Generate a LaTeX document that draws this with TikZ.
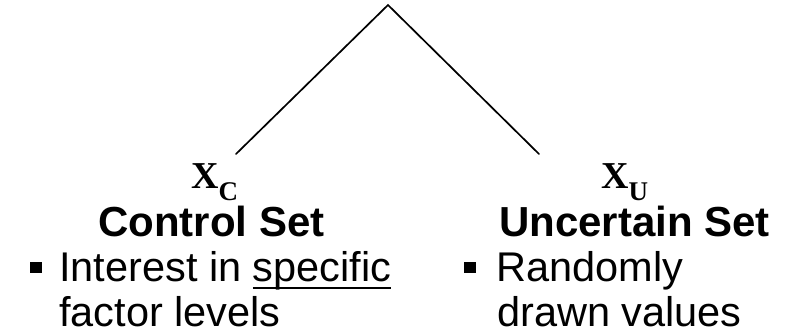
\documentclass[tikz,border=0pt]{standalone}
\usepackage{fontspec}
\setmainfont{Liberation Sans}
\newfontfamily\symfont{Liberation Serif}
% underline with a heavier rule than \underline gives
\newcommand{\thickul}[1]{{\setbox0\hbox{#1}\rlap{\rule[-8pt]{\wd0}{2.2pt}}\box0}}
\begin{document}
\begin{tikzpicture}[x=1pt,y=-1pt,
  branch/.style={line width=1.7pt, line cap=round},
  setname/.style={anchor=base west, inner sep=0pt, text height=31pt, font=\fontsize{42}{46}\selectfont\bfseries},
  bodyline/.style={anchor=base west, inner sep=0pt, text depth=0pt, font=\fontsize{41.5}{45}\selectfont},
  sym/.style={anchor=base west, inner sep=0pt, font=\symfont\bfseries\fontsize{38}{40}\selectfont},
  bulletmark/.style={fill=black, inner sep=0pt, minimum width=12pt, minimum height=11pt}]
\useasboundingbox (0,0) rectangle (788,332);

% branching lines
\coordinate (apex) at (388,5);
\coordinate (lend) at (236,154);
\coordinate (rend) at (539,154);
\draw[branch] (lend) -- (apex) -- (rend);

% control set
\node[sym] (xc) at (191,188) {X\raisebox{-12pt}{\fontsize{27}{28}\selectfont C}};
\node[setname] (ctitle) at (98,236) {Control Set};
\node[bulletmark] (cbul) at (35.5,267.5) {};
\node[bodyline] (cline1) at (59,281) {Interest in \thickul{specific}};
\node[bodyline] (cline2) at (59,326) {factor levels};

% uncertain set
\node[sym] (xu) at (601,188) {X\raisebox{-12pt}{\fontsize{27}{28}\selectfont U}};
\node[setname] (utitle) at (499,236) {Uncertain Set};
\node[bulletmark] (ubul) at (469.5,267.5) {};
\node[bodyline] (uline1) at (496,281) {Randomly};
\node[bodyline] (uline2) at (497,326) {drawn values};
\end{tikzpicture}
\end{document}
